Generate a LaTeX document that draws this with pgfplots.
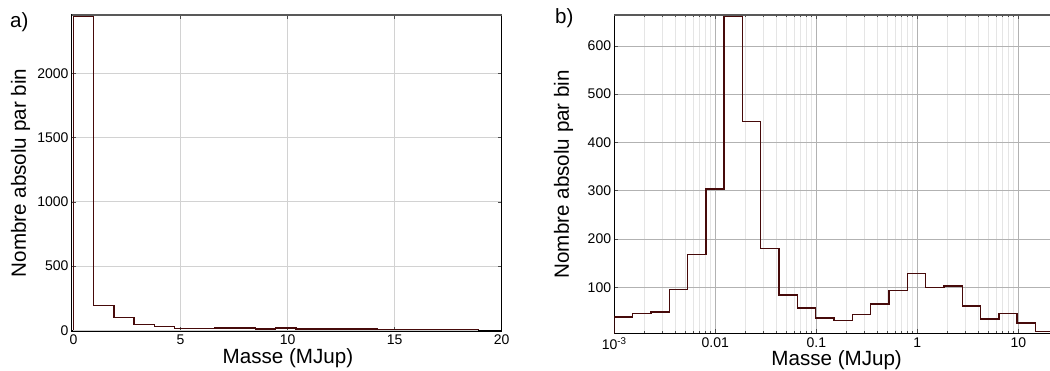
\documentclass[border=0pt]{standalone}
\usepackage{fontspec}
\setmainfont{Liberation Sans}
\usepackage{pgfplots}
\pgfplotsset{compat=1.18}
\definecolor{histline}{RGB}{70,10,10}
\begin{document}
\begin{tikzpicture}
\useasboundingbox (0,0) rectangle (1050pt,371pt);
\pgfplotsset{
  common/.style={
    scale only axis,
    tick align=inside,
    major tick length=4pt,
    minor tick length=2pt,
    tick style={black!70, line width=0.6pt},
    tick label style={font=\fontsize{14}{16}\selectfont},
    /pgf/number format/assume math mode=true,
    /pgf/number format/1000 sep={},
    yticklabel style={anchor=east, inner sep=0pt, xshift=-3pt},
    xticklabel style={anchor=north, inner sep=0pt, yshift=-4pt},
    label style={font=\fontsize{20.6}{24}\selectfont},
    axis line style={black, line width=1.2pt},
  }
}
\begin{axis}[common, name=ax1,
  at={(71.7pt,40pt)}, anchor=south west, width=430pt, height=316pt,
  xmin=-0.08, xmax=20, ymin=-6, ymax=2455,
  xtick={0,5,10,15,20}, ytick={0,500,1000,1500,2000},
  grid=major, major grid style={gray!35, line width=0.8pt},
  xlabel={Masse (MJup)}, ylabel={Nombre absolu par bin},
  xlabel style={at={(axis description cs:0.503,-0.1013)}, anchor=base},
  ylabel style={at={(axis description cs:-0.1191,0.5)}, anchor=center},
]
\addplot[gray!40, line width=1pt] coordinates {(0,0) (18.9,0)};
\addplot[const plot, histline, line width=1.4pt] coordinates {
(0,0) (0,2442) (0.945,191) (1.89,97) (2.835,46) (3.78,27) (4.725,13) (5.67,13)
(6.615,18) (7.56,18) (8.505,9) (9.45,16) (10.395,9) (11.34,9) (12.285,9) (13.23,9)
(14.175,4) (15.12,4) (16.065,7) (17.01,4) (17.955,6) (18.9,0)};
\end{axis}
\draw[black!65, line width=2pt] (ax1.north west) -- (ax1.north east);
\node[anchor=base west, inner sep=0pt, font=\fontsize{20.6}{24}\selectfont] at (10pt,343.3pt) {a)};

\begin{axis}[common, name=ax2, xmode=log,
  at={(614.3pt,37.7pt)}, anchor=south west, width=435.7pt, height=318.3pt,
  xmin=0.001, xmax=20.6, ymin=4.8, ymax=664,
  xtick={0.001,0.01,0.1,1,10}, xticklabels={10\textsuperscript{-3},0.01,0.1,1,10},
  ytick={100,200,300,400,500,600},
  xmajorgrids, xminorgrids, ymajorgrids,
  major grid style={gray!60, line width=0.7pt},
  minor grid style={gray!20, line width=0.7pt},
  axis y line*=left, y axis line style={-},
  xlabel={Masse (MJup)}, ylabel={Nombre absolu par bin},
  xlabel style={at={(axis description cs:0.5103,-0.1012)}, anchor=base},
  ylabel style={at={(axis description cs:-0.1166,0.5)}, anchor=center},
]
\addplot[const plot, histline, line width=1.4pt] coordinates {
(0.001,0) (0.001,38.5) (0.001518,46) (0.002305,49) (0.003499,96) (0.005312,168)
(0.008062,304) (0.012240,661) (0.018581,444) (0.028210,180) (0.042823,84)
(0.065013,57) (0.098696,36.5) (0.14983,31) (0.22746,43.5) (0.34530,65.5)
(0.52420,93) (0.79577,129) (1.2081,100) (1.8339,103) (2.7842,61) (4.2267,34)
(6.4166,46) (9.7409,26) (14.788,8) (22.449,0)};
\end{axis}
\draw[black!65, line width=2pt] (ax2.north west) -- (ax2.north east);
\node[anchor=base west, inner sep=0pt, font=\fontsize{20.6}{24}\selectfont] at (555pt,347pt) {b)};
\end{tikzpicture}
\end{document}
